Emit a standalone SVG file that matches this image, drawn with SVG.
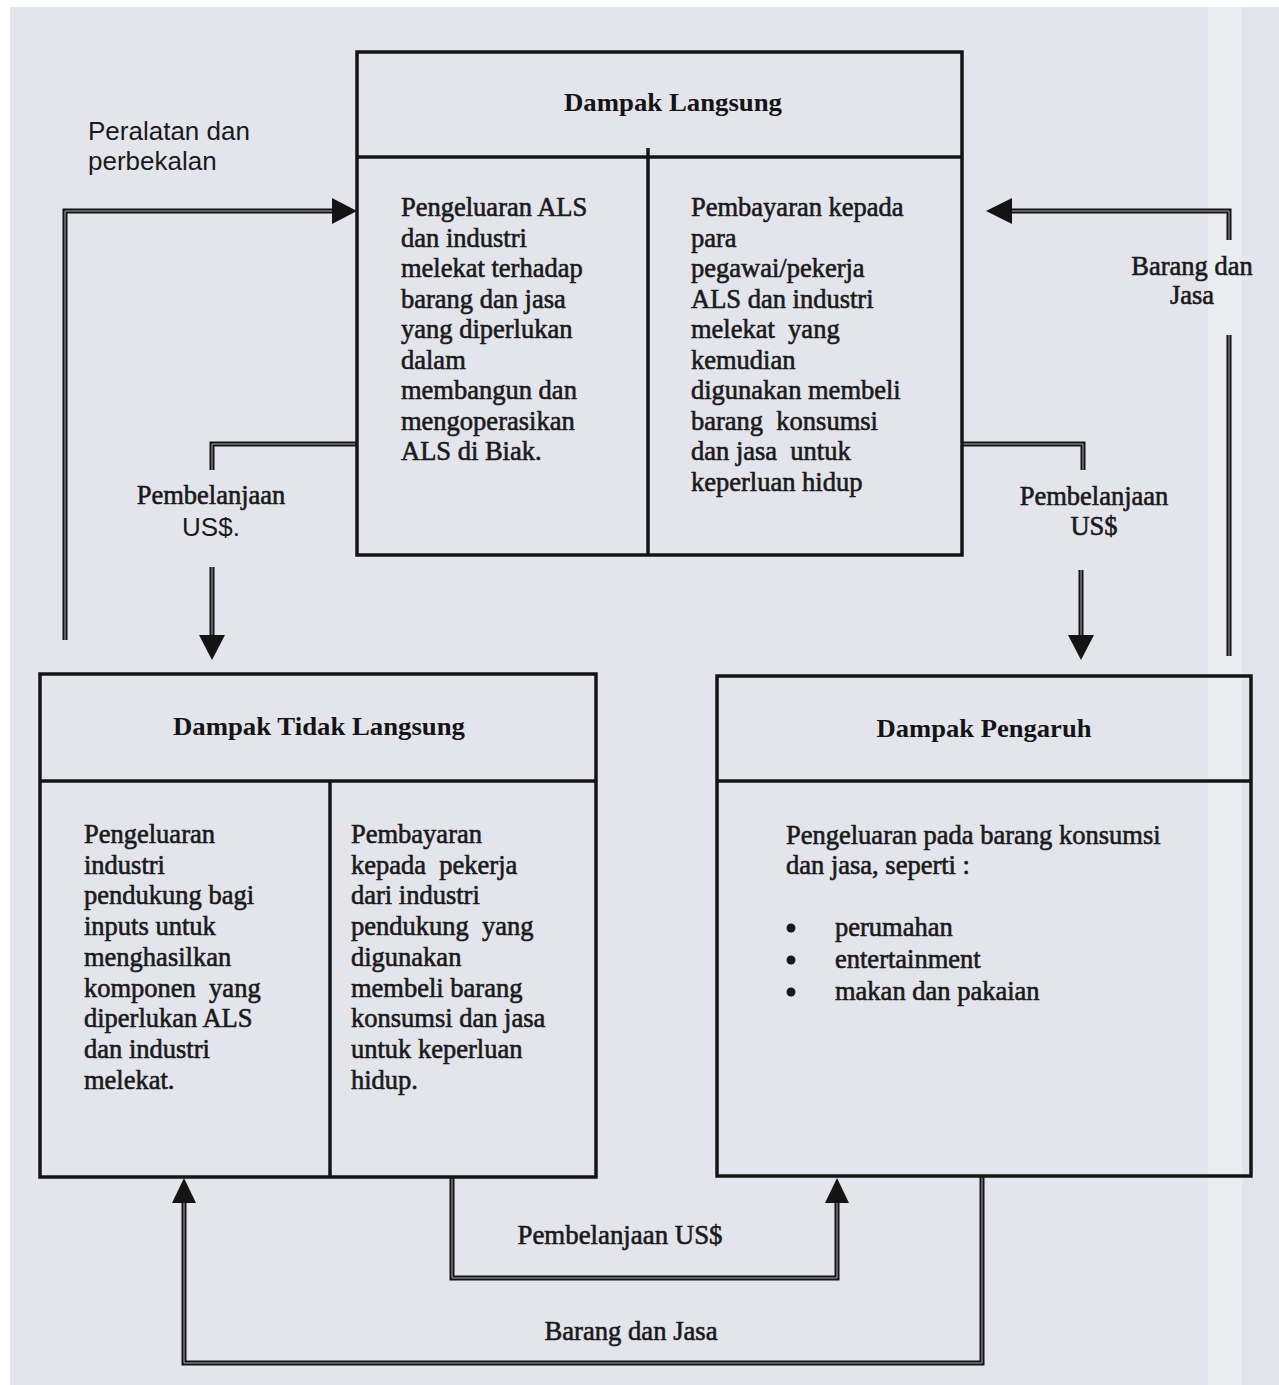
<svg xmlns="http://www.w3.org/2000/svg" width="1279" height="1385" viewBox="0 0 1279 1385">
<style>
.bg{fill:#e4e5ec}
.box{fill:none;stroke:#141414;stroke-width:3.5}
.ln{stroke:#141414;stroke-width:3.5;fill:none}
.dl{fill:none;stroke:#141414;stroke-width:5;stroke-linejoin:miter;stroke-linecap:butt}
.dli{fill:none;stroke:#b9bac2;stroke-width:0.9}
.ah{fill:#141414}
.t{font-family:"Liberation Serif","Times New Roman",serif;font-size:26.5px;fill:#1a1a1a;stroke:#1a1a1a;stroke-width:0.6}
.ttl{font-family:"Liberation Serif","Times New Roman",serif;font-size:25px;font-weight:bold;fill:#141414;text-anchor:middle}
.s{font-family:"Liberation Sans",Arial,sans-serif;font-size:26px;fill:#1a1a1a}
.c{text-anchor:middle}
</style>
<rect width="1279" height="1385" fill="#ffffff"/>
<rect class="bg" x="10" y="7" width="1269" height="1378"/>
<rect x="1208" y="7" width="34" height="1378" fill="#eff0f4" opacity="0.6"/>

<g id="connectors">
  <path class="dl" d="M65,640 V211 H334"/>
  <path class="dli" d="M65,640 V211 H334"/>
  <polygon class="ah" points="332,198 357,211 332,224"/>

  <path class="dl" d="M357,444 H212 V470"/>
  <path class="dli" d="M357,444 H212 V470"/>
  <path class="dl" d="M212,567 V637"/>
  <path class="dli" d="M212,567 V637"/>
  <polygon class="ah" points="199,635 225,635 212,660"/>

  <path class="dl" d="M1229,240 V211 H1010"/>
  <path class="dli" d="M1229,240 V211 H1010"/>
  <polygon class="ah" points="1012,198 986,211 1012,224"/>
  <path class="dl" d="M1229,335 V656"/>
  <path class="dli" d="M1229,335 V656"/>

  <path class="dl" d="M962,444 H1083 V470"/>
  <path class="dli" d="M962,444 H1083 V470"/>
  <path class="dl" d="M1081,570 V637"/>
  <path class="dli" d="M1081,570 V637"/>
  <polygon class="ah" points="1068,635 1094,635 1081,660"/>

  <path class="dl" d="M452,1178 V1278 H837 V1203"/>
  <path class="dli" d="M452,1178 V1278 H837 V1203"/>
  <polygon class="ah" points="825,1203 849,1203 837,1178"/>

  <path class="dl" d="M982,1177 V1363 H184 V1203"/>
  <path class="dli" d="M982,1177 V1363 H184 V1203"/>
  <polygon class="ah" points="172,1203 196,1203 184,1178"/>
</g>

<g id="label-peralatan">
  <text class="s" x="88" y="140">Peralatan dan</text>
  <text class="s" x="88" y="170">perbekalan</text>
</g>
<g id="label-pembelanjaan-left">
  <text class="t c" x="211" y="504">Pembelanjaan</text>
  <text class="s c" x="211" y="536">US$.</text>
</g>
<g id="label-barang-right">
  <text class="t c" x="1192" y="275">Barang dan</text>
  <text class="t c" x="1192" y="304">Jasa</text>
</g>
<g id="label-pembelanjaan-right">
  <text class="t c" x="1094" y="505">Pembelanjaan</text>
  <text class="t c" x="1094" y="535">US$</text>
</g>
<g id="label-pembelanjaan-bottom">
  <text class="t c" x="620" y="1244" textLength="205" lengthAdjust="spacingAndGlyphs">Pembelanjaan US$</text>
</g>
<g id="label-barang-bottom">
  <text class="t c" x="631" y="1340" textLength="173" lengthAdjust="spacingAndGlyphs">Barang dan Jasa</text>
</g>

<g id="node-dampak-langsung">
  <rect class="box" x="357" y="52" width="605" height="503"/>
  <line class="ln" x1="357" y1="157" x2="962" y2="157"/>
  <line class="ln" x1="648" y1="148" x2="648" y2="555"/>
  <text class="ttl" x="673" y="111" textLength="218" lengthAdjust="spacingAndGlyphs">Dampak Langsung</text>
  <text class="t" x="401" y="216">Pengeluaran ALS</text>
  <text class="t" x="401" y="246.5">dan industri</text>
  <text class="t" x="401" y="277">melekat terhadap</text>
  <text class="t" x="401" y="307.5">barang dan jasa</text>
  <text class="t" x="401" y="338">yang diperlukan</text>
  <text class="t" x="401" y="368.5">dalam</text>
  <text class="t" x="401" y="399">membangun dan</text>
  <text class="t" x="401" y="429.5">mengoperasikan</text>
  <text class="t" x="401" y="460">ALS di Biak.</text>
  <text class="t" x="691" y="216">Pembayaran kepada</text>
  <text class="t" x="691" y="246.5">para</text>
  <text class="t" x="691" y="277">pegawai/pekerja</text>
  <text class="t" x="691" y="307.5">ALS dan industri</text>
  <text class="t" x="691" y="338" xml:space="preserve">melekat  yang</text>
  <text class="t" x="691" y="368.5">kemudian</text>
  <text class="t" x="691" y="399">digunakan membeli</text>
  <text class="t" x="691" y="429.5" xml:space="preserve">barang  konsumsi</text>
  <text class="t" x="691" y="460" xml:space="preserve">dan jasa  untuk</text>
  <text class="t" x="691" y="490.5">keperluan hidup</text>
</g>

<g id="node-dampak-tidak-langsung">
  <rect class="box" x="40" y="674" width="556" height="503"/>
  <line class="ln" x1="40" y1="781" x2="596" y2="781"/>
  <line class="ln" x1="330" y1="781" x2="330" y2="1177"/>
  <text class="ttl" x="319" y="735" textLength="292" lengthAdjust="spacingAndGlyphs">Dampak Tidak Langsung</text>
  <text class="t" x="84" y="843">Pengeluaran</text>
  <text class="t" x="84" y="873.7">industri</text>
  <text class="t" x="84" y="904.4">pendukung bagi</text>
  <text class="t" x="84" y="935.1">inputs untuk</text>
  <text class="t" x="84" y="965.8">menghasilkan</text>
  <text class="t" x="84" y="996.5" xml:space="preserve">komponen  yang</text>
  <text class="t" x="84" y="1027.2">diperlukan ALS</text>
  <text class="t" x="84" y="1057.9">dan industri</text>
  <text class="t" x="84" y="1088.6">melekat.</text>
  <text class="t" x="351" y="843">Pembayaran</text>
  <text class="t" x="351" y="873.7" xml:space="preserve">kepada  pekerja</text>
  <text class="t" x="351" y="904.4">dari industri</text>
  <text class="t" x="351" y="935.1" xml:space="preserve">pendukung  yang</text>
  <text class="t" x="351" y="965.8">digunakan</text>
  <text class="t" x="351" y="996.5">membeli barang</text>
  <text class="t" x="351" y="1027.2">konsumsi dan jasa</text>
  <text class="t" x="351" y="1057.9">untuk keperluan</text>
  <text class="t" x="351" y="1088.6">hidup.</text>
</g>

<g id="node-dampak-pengaruh">
  <rect class="box" x="717" y="676" width="534" height="500"/>
  <line class="ln" x1="717" y1="781" x2="1251" y2="781"/>
  <text class="ttl" x="984" y="737" textLength="215" lengthAdjust="spacingAndGlyphs">Dampak Pengaruh</text>
  <text class="t" x="786" y="844">Pengeluaran pada barang konsumsi</text>
  <text class="t" x="786" y="874">dan jasa, seperti :</text>
  <circle cx="791" cy="928" r="4.5" fill="#1a1a1a"/>
  <circle cx="791" cy="960" r="4.5" fill="#1a1a1a"/>
  <circle cx="791" cy="992" r="4.5" fill="#1a1a1a"/>
  <text class="t" x="835" y="936">perumahan</text>
  <text class="t" x="835" y="968">entertainment</text>
  <text class="t" x="835" y="1000">makan dan pakaian</text>
</g>
</svg>
